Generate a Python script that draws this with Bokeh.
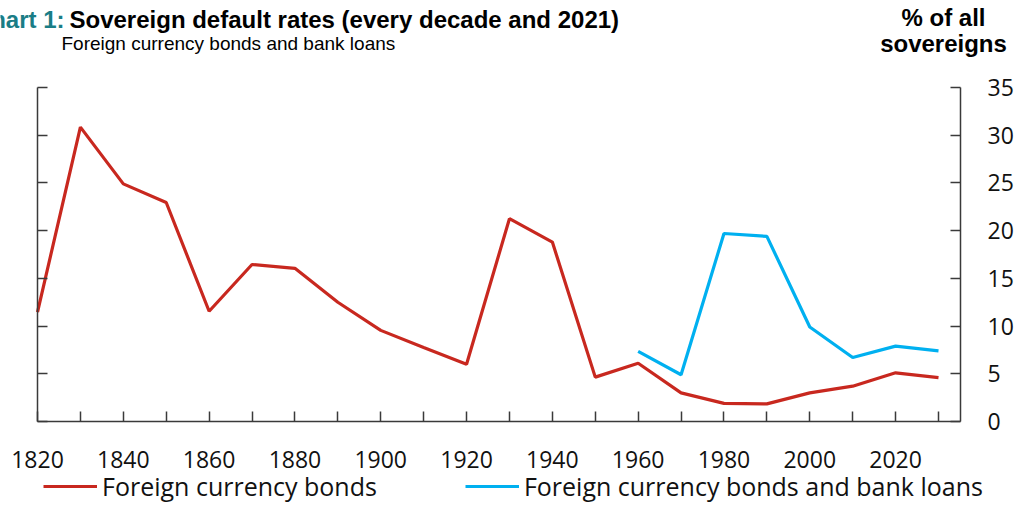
from bokeh.plotting import figure
from bokeh.models import (LinearAxis, FixedTicker, Range1d, Label, Legend, LegendItem,
                          ColumnDataSource)
from bokeh.embed import file_html
from bokeh.resources import INLINE

# ---- data ----
decades = [1820, 1830, 1840, 1850, 1860, 1870, 1880, 1890, 1900, 1910, 1920,
           1930, 1940, 1950, 1960, 1970, 1980, 1990, 2000, 2010, 2020, 2030]
bonds = [11.45, 30.85, 24.9, 22.95, 11.55, 16.45, 16.05, 12.5, 9.55, 7.75, 6.0,
         21.25, 18.8, 4.65, 6.1, 3.0, 1.9, 1.85, 3.0, 3.7, 5.1, 4.6]
loan_decades = [1960, 1970, 1980, 1990, 2000, 2010, 2020, 2030]
bonds_loans = [7.35, 4.9, 19.7, 19.4, 9.9, 6.7, 7.9, 7.4]
x_labels = [1820, 1840, 1860, 1880, 1900, 1920, 1940, 1960, 1980, 2000, 2020]
x_minor = [1830, 1850, 1870, 1890, 1910, 1930, 1950, 1970, 1990, 2010, 2030]
y_ticks = [0, 5, 10, 15, 20, 25, 30, 35]

RED = "#C8281F"
BLUE = "#00B0F0"
TEAL = "#1A7D86"
AXIS = "#3a3a3a"
TICK_FONT = "Open Sans"

W, H = 1019, 505
# plot area edges in canvas pixels
FL, FR, FT, FB = 37, 960, 87, 421
PX_X = (938 - 37) / 210.0      # pixels per year
PX_Y = (FB - FT) / 35.0        # pixels per percentage point
X0 = 1820 - FL / PX_X
X1 = 1820 + (W - FL) / PX_X
X_RIGHT = 1820 + (FR - FL) / PX_X
Y0 = -(H - FB) / PX_Y
Y1 = 35 + FT / PX_Y

p = figure(width=W, height=H, output_backend="svg", toolbar_location=None,
           x_range=Range1d(X0, X1), y_range=Range1d(Y0, Y1),
           x_axis_location=None, y_axis_location=None,
           min_border=0, min_border_left=0, min_border_right=0,
           min_border_top=0, min_border_bottom=0)
p.outline_line_color = None
p.xgrid.visible = False
p.ygrid.visible = False
p.background_fill_color = "white"
p.border_fill_color = "white"

common = dict(major_tick_out=0, minor_tick_out=0, axis_line_color=AXIS, axis_line_width=1.5,
              major_tick_line_color=AXIS, major_tick_line_width=1.5,
              minor_tick_line_color=AXIS, minor_tick_line_width=1.5,
              major_label_text_font=TICK_FONT, major_label_text_font_size="23px",
              major_label_text_color="#111111")

# left axis (no labels)
yl = LinearAxis(ticker=FixedTicker(ticks=y_ticks), major_tick_in=10, minor_tick_in=0,
                fixed_location=1820, bounds=(0, 35), major_label_standoff=0,
                major_label_overrides={t: "" for t in y_ticks}, **common)
p.add_layout(yl, "left")

# right axis
yr = LinearAxis(ticker=FixedTicker(ticks=y_ticks), major_tick_in=10, minor_tick_in=0,
                fixed_location=X_RIGHT, bounds=(0, 35), major_label_standoff=27, **common)
p.add_layout(yr, "right")

# bottom axis
xb = LinearAxis(ticker=FixedTicker(ticks=x_labels, minor_ticks=x_minor),
                major_tick_in=10, minor_tick_in=10, fixed_location=0,
                bounds=(1820, X_RIGHT), major_label_standoff=29, **common)
p.add_layout(xb, "below")

src_b = ColumnDataSource(dict(x=decades, y=bonds))
src_l = ColumnDataSource(dict(x=loan_decades, y=bonds_loans))
r_b = p.line("x", "y", source=src_b, line_color=RED, line_width=3.2)
r_l = p.line("x", "y", source=src_l, line_color=BLUE, line_width=3.2)

legend = Legend(items=[LegendItem(label="Foreign currency bonds", renderers=[r_b]),
                       LegendItem(label="Foreign currency bonds and bank loans", renderers=[r_l])],
                orientation="horizontal", location=(43, 2),
                glyph_width=54, glyph_height=20, label_height=20, label_standoff=5,
                spacing=88, padding=0, margin=0, border_line_color=None,
                background_fill_alpha=0, label_text_font=TICK_FONT,
                label_text_font_size="25px", label_text_color="#111111")
p.add_layout(legend, "center")


def lab(text, cx, cy, size, color="#000000", bold=False, align="left", font="Liberation Sans"):
    p.add_layout(Label(x=cx, y=H - cy, x_units="screen", y_units="screen", text=text,
                       text_font=font, text_font_size=size, text_color=color,
                       text_font_style="bold" if bold else "normal",
                       text_align=align, text_baseline="alphabetic"))


lab("Chart 1:", 64, 18.5, "24px", color=TEAL, bold=True, align="right")
lab("Sovereign default rates (every decade and 2021)", 69, 18.5, "24px", bold=True)
lab("Foreign currency bonds and bank loans", 61, 42.5, "19px")
lab("% of all", 943, 17, "24px", bold=True, align="center")
lab("sovereigns", 943, 43, "24px", bold=True, align="center")

open("out.html", "w").write(file_html(p, INLINE))
